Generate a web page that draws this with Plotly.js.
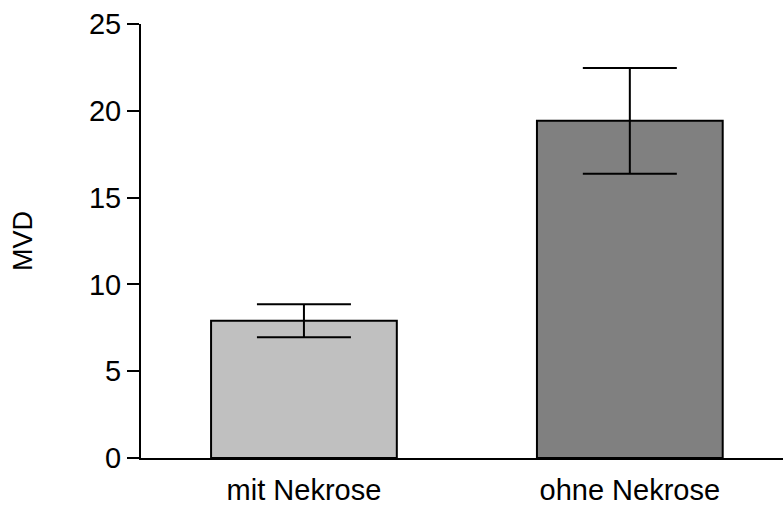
<!DOCTYPE html>
<html>
<head>
<meta charset="utf-8">
<script src="https://cdn.plot.ly/plotly-3.0.1.min.js"></script>
<style>html,body{margin:0;padding:0;background:#fff;}#chart{width:783px;height:506px;}</style>
</head>
<body>
<div id="chart"></div>
<script>
const categories = ["mit Nekrose", "ohne Nekrose"];
const values = [7.9, 19.42];
const errors = [0.95, 3.05];
const barColors = ["#c0c0c0", "#808080"];
const yTickVals = [0, 5, 10, 15, 20, 25];
const yTitle = "MVD";

const trace = {
  type: "bar",
  x: categories,
  y: values,
  width: 0.57,
  marker: { color: barColors, line: { color: "#000", width: 2 } },
  error_y: { type: "data", array: errors, visible: true, color: "#000", thickness: 2, width: 47 },
  hoverinfo: "none"
};

const layout = {
  width: 783, height: 506,
  margin: { l: 141, r: 0, t: 24, b: 48, pad: 0 },
  paper_bgcolor: "#fff", plot_bgcolor: "#fff",
  font: { family: "Liberation Sans, Arial, sans-serif", color: "#000", size: 29 },
  showlegend: false,
  xaxis: {
    type: "category",
    range: [-0.5, 1.47],
    showline: true, linecolor: "#000", linewidth: 2,
    ticks: "", showgrid: false, zeroline: false,
    tickfont: { size: 29 },
    automargin: false,
    ticklabelstandoff: 5
  },
  yaxis: {
    range: [0, 25],
    tickvals: yTickVals,
    showline: true, linecolor: "#000", linewidth: 2,
    ticks: "outside", ticklen: 12, tickwidth: 2, tickcolor: "#000",
    showgrid: false, zeroline: false,
    tickfont: { size: 29 },
    automargin: false,
    title: { text: yTitle, font: { size: 27 }, standoff: 48 }
  }
};

Plotly.newPlot("chart", [trace], layout, { displayModeBar: false, staticPlot: true });
</script>
</body>
</html>
